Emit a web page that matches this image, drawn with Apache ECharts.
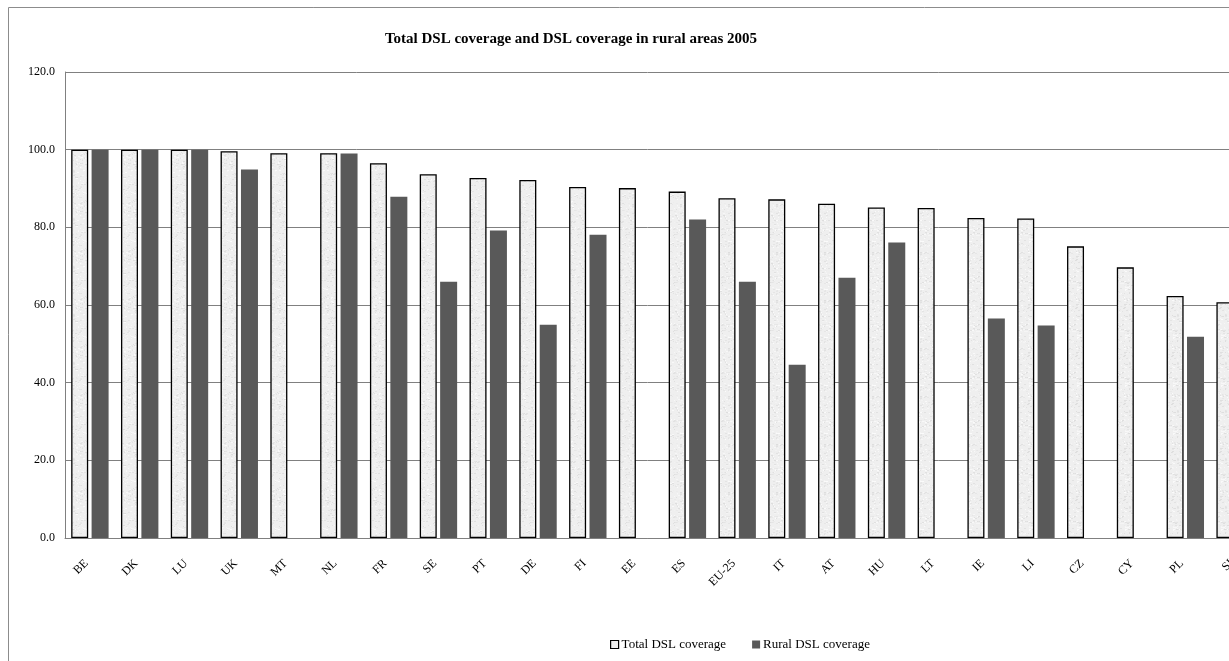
<!DOCTYPE html>
<html>
<head>
<meta charset="utf-8">
<title>Total DSL coverage and DSL coverage in rural areas 2005</title>
<script src="https://cdn.jsdelivr.net/npm/echarts@6/dist/echarts.min.js"></script>
<style>
  html, body { margin: 0; padding: 0; background: #fff; }
  #chart { width: 1229px; height: 661px; }
</style>
</head>
<body>
<div id="chart"></div>
<script>
// Countries, ordered by total coverage
const categories = ['BE', 'DK', 'LU', 'UK', 'MT', 'NL', 'FR', 'SE', 'PT', 'DE', 'FI', 'EE',
  'ES', 'EU-25', 'IT', 'AT', 'HU', 'LT', 'IE', 'LI', 'CZ', 'CY', 'PL', 'SI'];

// Total DSL coverage (% of population)
const totalCoverage = [100.0, 100.0, 100.0, 99.6, 99.1, 99.1, 96.5, 93.7, 92.7, 92.2, 90.4, 90.1,
  89.2, 87.5, 87.2, 86.1, 85.1, 85.0, 82.4, 82.3, 75.1, 69.7, 62.3, 60.7];

// Rural DSL coverage (% of rural population); null where not reported
const ruralCoverage = [100.0, 100.0, 100.0, 94.9, null, 99.0, 87.9, 66.0, 79.2, 54.9, 78.1, null,
  82.0, 66.0, 44.6, 67.0, 76.1, null, 56.5, 54.7, null, null, 51.8, null];

// Value axis ticks
const yTicks = [0, 20, 40, 60, 80, 100, 120];

const seriesNames = ['Total DSL coverage', 'Rural DSL coverage'];

// Fine granite-like grey texture for the light bars (deterministic speckle)
function makeSpeckle() {
  const c = document.createElement('canvas');
  c.width = 48; c.height = 48;
  const ctx = c.getContext('2d');
  ctx.fillStyle = '#efefef';
  ctx.fillRect(0, 0, 48, 48);
  let s = 12345;
  const next = () => { s = (s * 1103515245 + 12345) & 0x7fffffff; return s / 0x7fffffff; };
  for (let i = 0; i < 520; i++) {
    const x = Math.floor(next() * 48), y = Math.floor(next() * 48);
    const g = 222 + Math.floor(next() * 30);
    ctx.fillStyle = 'rgb(' + g + ',' + g + ',' + g + ')';
    ctx.fillRect(x, y, 1 + Math.floor(next() * 2), 1);
  }
  return c;
}
const speckle = makeSpeckle();

const serif = '"Liberation Serif", "Times New Roman", serif';

const chart = echarts.init(document.getElementById('chart'), null, { renderer: 'canvas' });

chart.setOption({
  backgroundColor: '#ffffff',
  animation: false,
  title: {
    text: 'Total DSL coverage and DSL coverage in rural areas 2005',
    left: 566,
    top: 27,
    textAlign: 'center',
    textStyle: { fontFamily: serif, fontSize: 15, fontWeight: 'bold', color: '#000' }
  },
  legend: {
    data: [
      { name: seriesNames[0], itemStyle: { color: '#eeeeee', borderColor: '#000', borderWidth: 1.2 } },
      { name: seriesNames[1], itemStyle: { color: '#595959' } }
    ],
    left: 610,
    top: 638,
    padding: 0,
    icon: 'rect',
    itemWidth: 8,
    itemHeight: 8,
    itemGap: 26,
    textStyle: { fontFamily: serif, fontSize: 13, color: '#000', padding: [0, 0, 0, -2] },
    selectedMode: false
  },
  graphic: [{
    type: 'rect',
    shape: { x: 8.5, y: 7.5, width: 1400, height: 800 },
    style: { fill: 'none', stroke: '#8c8c8c', lineWidth: 1 },
    silent: true,
    z: -1
  }],
  // plot area runs past the right edge of the page, so the last column is clipped
  grid: {
    left: 65,
    top: 72,
    width: 1195,
    height: 466,
    containLabel: false,
    outerBoundsMode: 'none'
  },
  xAxis: {
    type: 'category',
    data: categories,
    axisLine: { show: true, lineStyle: { color: '#808080', width: 1 } },
    axisTick: { show: false },
    axisLabel: {
      rotate: 45,
      margin: 20,
      padding: [0, 5, 0, 0],
      interval: 0,
      fontFamily: serif,
      fontSize: 12,
      color: '#000'
    }
  },
  yAxis: {
    type: 'value',
    min: yTicks[0],
    max: yTicks[yTicks.length - 1],
    interval: yTicks[1] - yTicks[0],
    axisLine: { show: true, lineStyle: { color: '#808080', width: 1 } },
    axisTick: { show: false },
    splitLine: { show: true, lineStyle: { color: '#808080', width: 1 } },
    axisLabel: {
      margin: 10,
      fontFamily: serif,
      fontSize: 12,
      color: '#000',
      formatter: v => v.toFixed(1)
    }
  },
  series: [
    {
      name: seriesNames[0],
      type: 'bar',
      data: totalCoverage,
      barWidth: 17,
      barGap: '20%',
      itemStyle: {
        color: { image: speckle, repeat: 'repeat' },
        borderColor: '#000',
        borderWidth: 1.3
      }
    },
    {
      name: seriesNames[1],
      type: 'bar',
      data: ruralCoverage,
      barWidth: 17,
      barGap: '20%',
      itemStyle: { color: '#595959' }
    }
  ]
});
</script>
</body>
</html>
